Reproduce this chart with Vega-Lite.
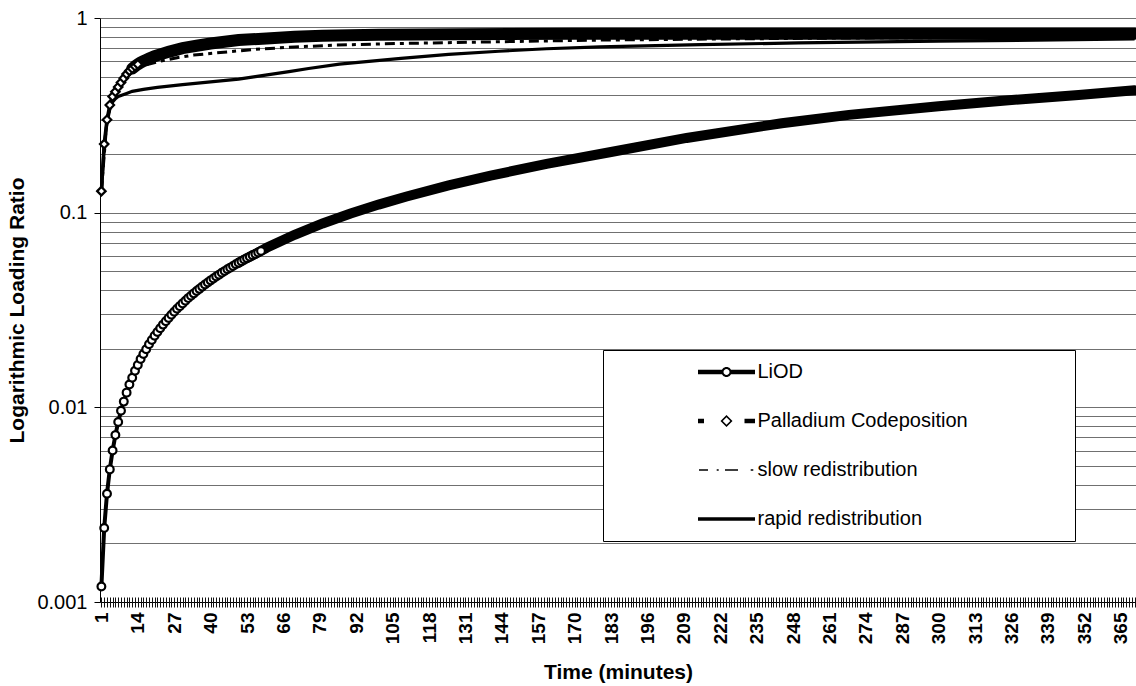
{
  "$schema": "https://vega.github.io/schema/vega-lite/v6.json",
  "width": 1036,
  "height": 584,
  "autosize": {"type": "none"},
  "padding": {"left": 100, "top": 18, "right": 0, "bottom": 84},
  "background": "white",
  "config": {
    "font": "Liberation Sans",
    "view": {"stroke": null},
    "axis": {"labelColor": "black", "titleColor": "black", "domainColor": "black", "labelFont": "Liberation Sans", "titleFont": "Liberation Sans"}
  },
  "data": {"values": [
    {"s": "LiOD", "t": 1, "v": 0.0012}, {"s": "LiOD", "t": 2, "v": 0.0024}, {"s": "LiOD", "t": 3, "v": 0.0036}, {"s": "LiOD", "t": 4, "v": 0.0048}, {"s": "LiOD", "t": 5, "v": 0.006},
    {"s": "LiOD", "t": 6, "v": 0.0072}, {"s": "LiOD", "t": 7, "v": 0.0084}, {"s": "LiOD", "t": 8, "v": 0.0096}, {"s": "LiOD", "t": 9, "v": 0.0107}, {"s": "LiOD", "t": 10, "v": 0.0119},
    {"s": "LiOD", "t": 11, "v": 0.0131}, {"s": "LiOD", "t": 12, "v": 0.0142}, {"s": "LiOD", "t": 13, "v": 0.0154}, {"s": "LiOD", "t": 14, "v": 0.0165}, {"s": "LiOD", "t": 15, "v": 0.0177},
    {"s": "LiOD", "t": 16, "v": 0.0188}, {"s": "LiOD", "t": 17, "v": 0.0199}, {"s": "LiOD", "t": 18, "v": 0.0211}, {"s": "LiOD", "t": 19, "v": 0.0222}, {"s": "LiOD", "t": 20, "v": 0.0233},
    {"s": "LiOD", "t": 21, "v": 0.0244}, {"s": "LiOD", "t": 22, "v": 0.0255}, {"s": "LiOD", "t": 23, "v": 0.0266}, {"s": "LiOD", "t": 24, "v": 0.0277}, {"s": "LiOD", "t": 25, "v": 0.0288},
    {"s": "LiOD", "t": 26, "v": 0.0299}, {"s": "LiOD", "t": 27, "v": 0.031}, {"s": "LiOD", "t": 28, "v": 0.0321}, {"s": "LiOD", "t": 29, "v": 0.0331}, {"s": "LiOD", "t": 30, "v": 0.0342},
    {"s": "LiOD", "t": 31, "v": 0.0353}, {"s": "LiOD", "t": 32, "v": 0.0364}, {"s": "LiOD", "t": 33, "v": 0.0374}, {"s": "LiOD", "t": 34, "v": 0.0385}, {"s": "LiOD", "t": 35, "v": 0.0396},
    {"s": "LiOD", "t": 36, "v": 0.0406}, {"s": "LiOD", "t": 37, "v": 0.0417}, {"s": "LiOD", "t": 38, "v": 0.0428}, {"s": "LiOD", "t": 39, "v": 0.0438}, {"s": "LiOD", "t": 40, "v": 0.0449},
    {"s": "LiOD", "t": 41, "v": 0.0459}, {"s": "LiOD", "t": 42, "v": 0.047}, {"s": "LiOD", "t": 43, "v": 0.048}, {"s": "LiOD", "t": 44, "v": 0.0491}, {"s": "LiOD", "t": 45, "v": 0.0501},
    {"s": "LiOD", "t": 46, "v": 0.0512}, {"s": "LiOD", "t": 47, "v": 0.0522}, {"s": "LiOD", "t": 48, "v": 0.0532}, {"s": "LiOD", "t": 49, "v": 0.0543}, {"s": "LiOD", "t": 50, "v": 0.0553},
    {"s": "LiOD", "t": 51, "v": 0.0563}, {"s": "LiOD", "t": 52, "v": 0.0574}, {"s": "LiOD", "t": 53, "v": 0.0584}, {"s": "LiOD", "t": 54, "v": 0.0594}, {"s": "LiOD", "t": 55, "v": 0.0604},
    {"s": "LiOD", "t": 56, "v": 0.0614}, {"s": "LiOD", "t": 57, "v": 0.0625}, {"s": "LiOD", "t": 58, "v": 0.0636}, {"s": "LiOD", "t": 59, "v": 0.0648}, {"s": "LiOD", "t": 60, "v": 0.066},
    {"s": "LiOD", "t": 70, "v": 0.077}, {"s": "LiOD", "t": 80, "v": 0.088}, {"s": "LiOD", "t": 90, "v": 0.099}, {"s": "LiOD", "t": 100, "v": 0.11},
    {"s": "LiOD", "t": 110, "v": 0.121}, {"s": "LiOD", "t": 125, "v": 0.138}, {"s": "LiOD", "t": 140, "v": 0.155}, {"s": "LiOD", "t": 160, "v": 0.178}, {"s": "LiOD", "t": 183, "v": 0.205},
    {"s": "LiOD", "t": 210, "v": 0.242}, {"s": "LiOD", "t": 244, "v": 0.288}, {"s": "LiOD", "t": 268, "v": 0.318}, {"s": "LiOD", "t": 300, "v": 0.352}, {"s": "LiOD", "t": 325, "v": 0.378},
    {"s": "LiOD", "t": 350, "v": 0.402}, {"s": "LiOD", "t": 370, "v": 0.425},
    {"s": "Palladium Codeposition", "t": 1, "v": 0.129}, {"s": "Palladium Codeposition", "t": 2, "v": 0.225}, {"s": "Palladium Codeposition", "t": 3, "v": 0.3}, {"s": "Palladium Codeposition", "t": 4, "v": 0.357},
    {"s": "Palladium Codeposition", "t": 5, "v": 0.395}, {"s": "Palladium Codeposition", "t": 6, "v": 0.418}, {"s": "Palladium Codeposition", "t": 7, "v": 0.442}, {"s": "Palladium Codeposition", "t": 8, "v": 0.466},
    {"s": "Palladium Codeposition", "t": 9, "v": 0.49}, {"s": "Palladium Codeposition", "t": 10, "v": 0.515}, {"s": "Palladium Codeposition", "t": 11, "v": 0.535}, {"s": "Palladium Codeposition", "t": 12, "v": 0.55},
    {"s": "Palladium Codeposition", "t": 13, "v": 0.565}, {"s": "Palladium Codeposition", "t": 14, "v": 0.578}, {"s": "Palladium Codeposition", "t": 15, "v": 0.59}, {"s": "Palladium Codeposition", "t": 16, "v": 0.6},
    {"s": "Palladium Codeposition", "t": 17, "v": 0.61}, {"s": "Palladium Codeposition", "t": 18, "v": 0.62}, {"s": "Palladium Codeposition", "t": 19, "v": 0.628}, {"s": "Palladium Codeposition", "t": 20, "v": 0.636},
    {"s": "Palladium Codeposition", "t": 22, "v": 0.65}, {"s": "Palladium Codeposition", "t": 25, "v": 0.67}, {"s": "Palladium Codeposition", "t": 30, "v": 0.7}, {"s": "Palladium Codeposition", "t": 35, "v": 0.72},
    {"s": "Palladium Codeposition", "t": 40, "v": 0.74}, {"s": "Palladium Codeposition", "t": 50, "v": 0.77}, {"s": "Palladium Codeposition", "t": 60, "v": 0.785}, {"s": "Palladium Codeposition", "t": 70, "v": 0.8},
    {"s": "Palladium Codeposition", "t": 80, "v": 0.81}, {"s": "Palladium Codeposition", "t": 100, "v": 0.82}, {"s": "Palladium Codeposition", "t": 130, "v": 0.825}, {"s": "Palladium Codeposition", "t": 170, "v": 0.83},
    {"s": "Palladium Codeposition", "t": 220, "v": 0.83}, {"s": "Palladium Codeposition", "t": 270, "v": 0.83}, {"s": "Palladium Codeposition", "t": 320, "v": 0.83}, {"s": "Palladium Codeposition", "t": 370, "v": 0.83},
    {"s": "slow redistribution", "t": 1, "v": 0.129}, {"s": "slow redistribution", "t": 3, "v": 0.3}, {"s": "slow redistribution", "t": 5, "v": 0.39}, {"s": "slow redistribution", "t": 7, "v": 0.45},
    {"s": "slow redistribution", "t": 9, "v": 0.5}, {"s": "slow redistribution", "t": 12, "v": 0.54}, {"s": "slow redistribution", "t": 16, "v": 0.57}, {"s": "slow redistribution", "t": 22, "v": 0.6},
    {"s": "slow redistribution", "t": 28, "v": 0.625}, {"s": "slow redistribution", "t": 34, "v": 0.645}, {"s": "slow redistribution", "t": 46, "v": 0.67}, {"s": "slow redistribution", "t": 56, "v": 0.69},
    {"s": "slow redistribution", "t": 70, "v": 0.71}, {"s": "slow redistribution", "t": 84, "v": 0.725}, {"s": "slow redistribution", "t": 108, "v": 0.74}, {"s": "slow redistribution", "t": 143, "v": 0.755},
    {"s": "slow redistribution", "t": 179, "v": 0.77}, {"s": "slow redistribution", "t": 220, "v": 0.78}, {"s": "slow redistribution", "t": 270, "v": 0.79}, {"s": "slow redistribution", "t": 320, "v": 0.795},
    {"s": "slow redistribution", "t": 370, "v": 0.8},
    {"s": "rapid redistribution", "t": 1, "v": 0.129}, {"s": "rapid redistribution", "t": 2, "v": 0.22}, {"s": "rapid redistribution", "t": 3, "v": 0.29}, {"s": "rapid redistribution", "t": 4, "v": 0.34},
    {"s": "rapid redistribution", "t": 5, "v": 0.37}, {"s": "rapid redistribution", "t": 6, "v": 0.385}, {"s": "rapid redistribution", "t": 7, "v": 0.395}, {"s": "rapid redistribution", "t": 8, "v": 0.4},
    {"s": "rapid redistribution", "t": 10, "v": 0.41}, {"s": "rapid redistribution", "t": 12, "v": 0.42}, {"s": "rapid redistribution", "t": 16, "v": 0.43}, {"s": "rapid redistribution", "t": 21, "v": 0.44},
    {"s": "rapid redistribution", "t": 30, "v": 0.455}, {"s": "rapid redistribution", "t": 40, "v": 0.47}, {"s": "rapid redistribution", "t": 50, "v": 0.485}, {"s": "rapid redistribution", "t": 56, "v": 0.5},
    {"s": "rapid redistribution", "t": 62, "v": 0.515}, {"s": "rapid redistribution", "t": 68, "v": 0.53}, {"s": "rapid redistribution", "t": 75, "v": 0.55}, {"s": "rapid redistribution", "t": 86, "v": 0.58},
    {"s": "rapid redistribution", "t": 108, "v": 0.62}, {"s": "rapid redistribution", "t": 125, "v": 0.65}, {"s": "rapid redistribution", "t": 143, "v": 0.675}, {"s": "rapid redistribution", "t": 160, "v": 0.695},
    {"s": "rapid redistribution", "t": 179, "v": 0.71}, {"s": "rapid redistribution", "t": 215, "v": 0.73}, {"s": "rapid redistribution", "t": 250, "v": 0.745}, {"s": "rapid redistribution", "t": 300, "v": 0.76},
    {"s": "rapid redistribution", "t": 370, "v": 0.78}
  ]},
  "encoding": {
    "x": {
      "field": "t", "type": "quantitative",
      "scale": {"domain": [0.5, 370.5], "nice": false, "zero": false},
      "axis": {
        "title": "Time (minutes)", "tickCount": 370,
        "labelExpr": "(datum.value - 1) % 13 == 0 ? datum.label : ''",
        "labelAngle": -90, "labelOverlap": false, "labelFlush": false, "labelBound": false,
        "grid": false, "domain": false, "offset": -5, "tickSize": 10, "tickColor": "#111", "tickWidth": 1,
        "labelPadding": 5, "labelFontSize": 19, "labelFontWeight": "bold",
        "titleFontSize": 21, "titleFontWeight": "bold", "titlePadding": 18
      }
    },
    "y": {
      "field": "v", "type": "quantitative",
      "scale": {"type": "log", "domain": [0.001, 1], "nice": false},
      "axis": {
        "title": "Logarithmic Loading Ratio",
        "values": [0.001, 0.002, 0.003, 0.004, 0.005, 0.006, 0.007, 0.008, 0.009, 0.01, 0.02, 0.03, 0.04, 0.05, 0.06, 0.07, 0.08, 0.09, 0.1, 0.2, 0.3, 0.4, 0.5, 0.6, 0.7, 0.8, 0.9, 1],
        "labelExpr": "datum.value == 1 ? '1' : datum.value == 0.1 ? '0.1' : datum.value == 0.01 ? '0.01' : datum.value == 0.001 ? '0.001' : ''",
        "labelOverlap": false, "labelFlush": false,
        "grid": true,
        "gridColor": {"condition": {"test": "datum.value == 0.001", "value": "black"}, "value": "#707070"},
        "tickColor": {"condition": {"test": "datum.value == 1 || datum.value == 0.1 || datum.value == 0.01 || datum.value == 0.001", "value": "black"}, "value": "transparent"},
        "tickSize": 6, "labelPadding": 7, "labelFontSize": 20,
        "titleFontSize": 21, "titleFontWeight": "bold", "titlePadding": 9
      }
    }
  },
  "layer": [
    {
      "transform": [{"filter": "datum.s == 'slow redistribution'"}],
      "mark": {"type": "line", "strokeWidth": 3, "strokeDash": [10, 5, 4, 5]},
      "encoding": {
        "color": {
          "field": "s", "type": "nominal",
          "scale": {"domain": ["LiOD", "Palladium Codeposition", "slow redistribution", "rapid redistribution"], "range": ["black", "black", "black", "black"]},
          "legend": {
            "orient": "none", "legendX": 503, "legendY": 332, "title": null,
            "padding": 12, "rowPadding": 29, "fillColor": "white", "strokeColor": "black",
            "labelFont": "Liberation Sans", "labelFontSize": 20, "labelColor": "black", "labelLimit": 500,
            "symbolSize": 100, "symbolStrokeWidth": 0, "symbolOffset": 101.5, "labelOffset": 21,
            "encode": {
              "symbols": {"update": {
                "shape": {"signal": "(datum.value == 'LiOD' ? 'M-5.7,-0.45L-0.9,-0.45L-0.9,0.45L-5.7,0.45Z M0.9,-0.45L5.7,-0.45L5.7,0.45L0.9,0.45Z M1,0C1,0.552 0.552,1 0,1C-0.552,1 -1,0.552 -1,0C-1,-0.552 -0.552,-1 0,-1C0.552,-1 1,-0.552 1,0Z M0.6,0C0.6,-0.331 0.331,-0.6 0,-0.6C-0.331,-0.6 -0.6,-0.331 -0.6,0C-0.6,0.331 -0.331,0.6 0,0.6C0.331,0.6 0.6,0.331 0.6,0Z' : datum.value == 'Palladium Codeposition' ? 'M-5.7,-0.45L-4.5,-0.45L-4.5,0.45L-5.7,0.45Z M3.6,-0.45L5.7,-0.45L5.7,0.45L3.6,0.45Z M0,-1.2L1.2,0L0,1.2L-1.2,0Z M0,-0.75L-0.75,0L0,0.75L0.75,0Z' : datum.value == 'slow redistribution' ? 'M-5.5,-0.17L-3.7,-0.17L-3.7,0.17L-5.5,0.17Z M-1.96,-0.17L-1.56,-0.17L-1.56,0.17L-1.96,0.17Z M-0.3,-0.17L2.3,-0.17L2.3,0.17L-0.3,0.17Z M4.84,-0.17L5.36,-0.17L5.36,0.17L4.84,0.17Z' : 'M-5.7,-0.35L5.7,-0.35L5.7,0.35L-5.7,0.35Z') + ' M67.2,0L67.3,0L67.3,0.001Z'"},
                "fill": {"value": "black"},
                "stroke": {"value": "transparent"}
              }}
            }
          }
        }
      }
    },
    {
      "transform": [{"filter": "datum.s == 'rapid redistribution'"}],
      "mark": {"type": "line", "strokeWidth": 3.2},
      "encoding": {"color": {"field": "s", "type": "nominal", "scale": {"domain": ["LiOD", "Palladium Codeposition", "slow redistribution", "rapid redistribution"], "range": ["black", "black", "black", "black"]}}}
    },
    {
      "transform": [{"filter": "datum.s == 'Palladium Codeposition'"}],
      "mark": {"type": "line", "strokeWidth": 3.5},
      "encoding": {"color": {"field": "s", "type": "nominal", "scale": {"domain": ["LiOD", "Palladium Codeposition", "slow redistribution", "rapid redistribution"], "range": ["black", "black", "black", "black"]}}}
    },
    {
      "transform": [{"filter": "datum.s == 'Palladium Codeposition' && datum.t >= 12"}],
      "mark": {"type": "line", "strokeWidth": 12, "strokeCap": "round"},
      "encoding": {"color": {"field": "s", "type": "nominal", "scale": {"domain": ["LiOD", "Palladium Codeposition", "slow redistribution", "rapid redistribution"], "range": ["black", "black", "black", "black"]}}}
    },
    {
      "transform": [{"filter": "datum.s == 'Palladium Codeposition' && datum.t <= 14"}],
      "mark": {"type": "point", "shape": "diamond", "size": 72, "fill": "white", "stroke": "black", "strokeWidth": 2.2, "opacity": 1}
    },
    {
      "transform": [{"filter": "datum.s == 'LiOD'"}],
      "mark": {"type": "line", "strokeWidth": 4},
      "encoding": {"color": {"field": "s", "type": "nominal", "scale": {"domain": ["LiOD", "Palladium Codeposition", "slow redistribution", "rapid redistribution"], "range": ["black", "black", "black", "black"]}}}
    },
    {
      "transform": [{"filter": "datum.s == 'LiOD' && datum.t >= 50"}],
      "mark": {"type": "line", "strokeWidth": 10, "strokeCap": "round"},
      "encoding": {"color": {"field": "s", "type": "nominal", "scale": {"domain": ["LiOD", "Palladium Codeposition", "slow redistribution", "rapid redistribution"], "range": ["black", "black", "black", "black"]}}}
    },
    {
      "transform": [{"filter": "datum.s == 'LiOD' && datum.t <= 58"}],
      "mark": {"type": "point", "shape": "circle", "size": 60, "fill": "white", "stroke": "black", "strokeWidth": 2.2, "opacity": 1}
    }
  ]
}
